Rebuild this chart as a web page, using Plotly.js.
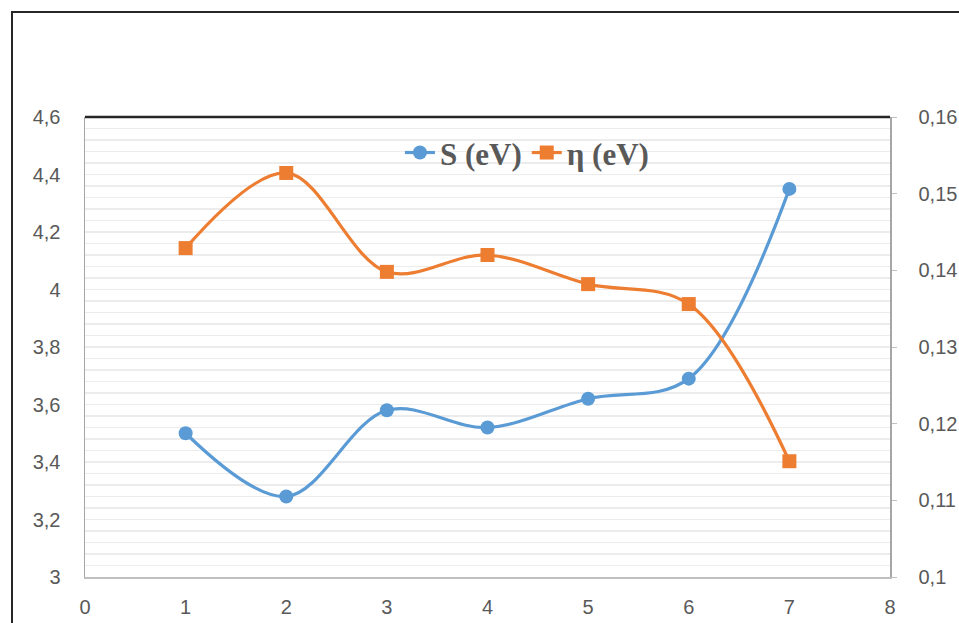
<!DOCTYPE html>
<html>
<head>
<meta charset="utf-8">
<script src="https://cdn.plot.ly/plotly-3.0.1.min.js"></script>
<style>
  html, body { margin: 0; padding: 0; background: #ffffff; overflow: hidden; }
  #chart { width: 959px; height: 623px; }
  #frame { position: absolute; left: 11px; top: 11px; width: 1100px; height: 800px;
           border: 2px solid #262626; pointer-events: none; z-index: 10; }
</style>
</head>
<body>
<div id="chart"></div>
<div id="frame"></div>
<script>
// ---- data ----
const xValues = [1, 2, 3, 4, 5, 6, 7];
const sValues = [3.50, 3.28, 3.58, 3.52, 3.62, 3.69, 4.35];          // S (eV), left axis
const etaValues = [0.1429, 0.1527, 0.1398, 0.1420, 0.1382, 0.1356, 0.1151]; // η (eV), right axis
const seriesNames = ['S (eV)', 'η (eV)'];

const blue = '#5B9BD5';
const orange = '#ED7D31';
const labelColor = '#595959';
const gridColor = '#ececec';
const tickFont = { family: 'Liberation Sans, Arial, sans-serif', size: 20, color: labelColor };

const traces = [
  {
    x: xValues, y: sValues, name: seriesNames[0], type: 'scatter', mode: 'lines+markers',
    line: { color: blue, width: 3.2, shape: 'spline', smoothing: 1 },
    marker: { color: blue, size: 14, symbol: 'circle' },
    yaxis: 'y'
  },
  {
    x: xValues, y: etaValues, name: seriesNames[1], type: 'scatter', mode: 'lines+markers',
    line: { color: orange, width: 3.2, shape: 'spline', smoothing: 1 },
    marker: { color: orange, size: 14, symbol: 'square' },
    yaxis: 'y2'
  }
];

const layout = {
  width: 959, height: 623,
  margin: { l: 85, r: 69, t: 117, b: 46, pad: 0 },
  paper_bgcolor: '#ffffff', plot_bgcolor: '#ffffff',
  separators: ', ',
  showlegend: true,
  legend: {
    orientation: 'h', x: 0.549, xanchor: 'center', y: 0.922, yanchor: 'middle',
    bgcolor: 'rgba(0,0,0,0)',
    font: { family: 'Liberation Serif', size: 31, color: labelColor, weight: 'bold' },
    itemwidth: 30, tracegroupgap: 0
  },
  xaxis: {
    range: [0, 8], dtick: 1, tick0: 0, showgrid: false, zeroline: false,
    showline: true, linecolor: '#bfbfbf', linewidth: 1.5,
    ticks: '', ticklabelstandoff: 11, tickfont: tickFont
  },
  yaxis: {
    range: [3, 4.6], dtick: 0.2, tick0: 3, tickformat: '.1~f',
    showgrid: true, gridcolor: gridColor, gridwidth: 1.5,
    minor: { dtick: 0.04, tick0: 3, showgrid: true, gridcolor: gridColor, gridwidth: 1.5 },
    zeroline: false, showline: true, linecolor: '#a6a6a6', linewidth: 1.5,
    ticks: '', ticklabelstandoff: 19, tickfont: tickFont
  },
  yaxis2: {
    range: [0.1, 0.16], dtick: 0.01, tick0: 0.1, tickformat: '.2~f',
    overlaying: 'y', side: 'right', showgrid: false, zeroline: false,
    showline: true, linecolor: '#a6a6a6', linewidth: 1.5,
    ticks: 'outside', ticklen: 5, tickcolor: '#bfbfbf', tickwidth: 1,
    ticklabelstandoff: 18, tickfont: tickFont
  },
  shapes: [
    { type: 'line', xref: 'paper', yref: 'paper', x0: 0, x1: 1, y0: 1, y1: 1,
      line: { color: '#262626', width: 2.5 } }
  ]
};

Plotly.newPlot('chart', traces, layout, { displayModeBar: false, staticPlot: true });
</script>
</body>
</html>
